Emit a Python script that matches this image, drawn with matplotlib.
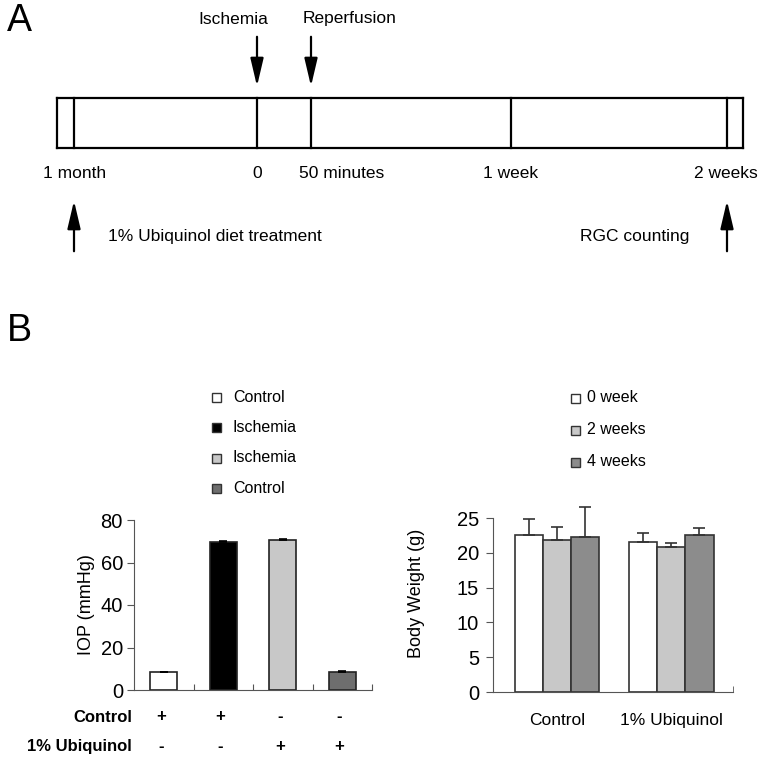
import matplotlib
matplotlib.use('Agg')
import matplotlib.pyplot as plt
from matplotlib.patches import Rectangle
import numpy as np

plt.rcParams['font.family'] = ['Liberation Sans', 'DejaVu Sans']

# panel A timeline
box_edges = [57, 74, 257, 311, 511, 727, 743]
time_labels = ['1 month', '0', '50 minutes', '1 week', '2 weeks']
time_label_x = [75, 257, 342, 511, 726]
events_top = ['Ischemia', 'Reperfusion']
events_top_x = [257, 311]
events_top_text_x = [233, 350]
events_bottom = ['1% Ubiquinol diet treatment', 'RGC counting']
events_bottom_x = [74, 727]
events_bottom_text_x = [108, 580]

# panel B left: IOP
iop_names = ['Control', 'Ischemia', 'Ischemia', 'Control']
iop_vals = [8.6, 69.6, 70.5, 8.6]
iop_err = [0.0, 0.5, 0.4, 0.5]
iop_colors = ['white', 'black', '#c8c8c8', '#6e6e6e']
row_names = ['Control', '1% Ubiquinol']
row_signs = [['+', '+', '-', '-'], ['-', '-', '+', '+']]

# panel B right: body weight
bw_groups = ['Control', '1% Ubiquinol']
bw_series = ['0 week', '2 weeks', '4 weeks']
bw_vals = [[22.6, 21.6], [21.8, 20.8], [22.2, 22.5]]
bw_err = [[2.3, 1.2], [1.9, 0.6], [4.4, 1.0]]
bw_colors = ['white', '#c8c8c8', '#8c8c8c']

W, H = 762, 766
fig = plt.figure(figsize=(W / 100, H / 100), dpi=100)

# overlay axes in pixel coords
ax0 = fig.add_axes([0, 0, 1, 1])
ax0.set_xlim(0, W)
ax0.set_ylim(H, 0)
ax0.axis('off')

ax0.text(7, 3, 'A', fontsize=27, va='top', ha='left')
ax0.text(7, 313, 'B', fontsize=27, va='top', ha='left')

# timeline box
top, bot = 98, 148
ax0.plot([box_edges[0], box_edges[-1]], [top, top], color='black', lw=1.6)
ax0.plot([box_edges[0], box_edges[-1]], [bot, bot], color='black', lw=1.6)
for x in box_edges:
    ax0.plot([x, x], [top, bot], color='black', lw=1.6)
for lab, x in zip(time_labels, time_label_x):
    ax0.text(x, 174, lab, fontsize=12.5, ha='center', va='center')

arrow = dict(arrowstyle='-|>,head_length=1.7,head_width=0.4', color='black', lw=1.6)
for lab, x, tx in zip(events_top, events_top_x, events_top_text_x):
    ax0.annotate('', xy=(x, 89), xytext=(x, 34), arrowprops=arrow)
    ax0.text(tx, 19, lab, fontsize=12.5, ha='center', va='center')
for lab, x, tx in zip(events_bottom, events_bottom_x, events_bottom_text_x):
    ax0.annotate('', xy=(x, 198), xytext=(x, 254), arrowprops=arrow)
    ax0.text(tx, 237, lab, fontsize=12.5, ha='left', va='center')

# ---- left bar chart
l, r, b, t = 134, 372, 690, 520
ax1 = fig.add_axes([l / W, 1 - b / H, (r - l) / W, (b - t) / H])
xpos = np.arange(len(iop_vals)) + 0.5
ax1.bar(xpos, iop_vals, width=0.45, color=iop_colors, edgecolor='#222222', lw=1.2,
        yerr=[np.zeros(len(iop_err)), iop_err], capsize=3,
        error_kw=dict(ecolor='black', elinewidth=1.2, capthick=1.2))
ax1.set_xlim(0, 4)
ax1.set_ylim(0, 80)
ax1.set_yticks([0, 20, 40, 60, 80])
ax1.set_xticks([1, 2, 3, 4])
ax1.set_xticklabels([])
ax1.tick_params(axis='y', direction='out', length=5, labelsize=14.5, pad=3, color='#555555')
ax1.tick_params(axis='x', direction='in', length=4, color='#555555')
for s in ['top', 'right']:
    ax1.spines[s].set_visible(False)
for s in ['left', 'bottom']:
    ax1.spines[s].set_color('#555555')
ax1.set_ylabel('IOP (mmHg)', fontsize=13)
ax1.yaxis.set_label_coords((95 - l) / (r - l), 0.5)

for i, (name, signs) in enumerate(zip(row_names, row_signs)):
    yy = 717 + 30 * i
    ax0.text(132, yy, name, fontsize=12, fontweight='bold', ha='right', va='center')
    for sx, sg in zip(xpos, signs):
        xx = l + sx / 4 * (r - l) - 3
        ax0.text(xx, yy, sg, fontsize=12, fontweight='bold', ha='center', va='center')

# legend left
for i, (name, c) in enumerate(zip(iop_names, iop_colors)):
    yy = 397 + 30.5 * i
    ax0.add_patch(Rectangle((212, yy - 4.5), 9, 9, facecolor=c, edgecolor='#333333', lw=1))
    ax0.text(233, yy, name, fontsize=11.5, ha='left', va='center')

# ---- right bar chart
l2, r2, b2, t2 = 493, 733, 692, 518
ax2 = fig.add_axes([l2 / W, 1 - b2 / H, (r2 - l2) / W, (b2 - t2) / H])
gx = np.array([0.535, 1.485])
bw = 0.235
for k in range(len(bw_series)):
    xs = gx + (k - 1) * bw
    ax2.bar(xs, bw_vals[k], width=bw, color=bw_colors[k], edgecolor='#333333', lw=1.2,
            yerr=[np.zeros(len(gx)), bw_err[k]], capsize=4,
            error_kw=dict(ecolor='#333333', elinewidth=1.2, capthick=1.2, clip_on=False))
ax2.set_xlim(0, 2)
ax2.set_ylim(0, 25)
ax2.set_yticks([0, 5, 10, 15, 20, 25])
ax2.set_xticks(gx)
ax2.set_xticklabels(bw_groups, fontsize=12.5)
ax2.set_xticks([2], minor=True)
ax2.tick_params(axis='x', which='major', length=0, pad=15)
ax2.tick_params(axis='x', which='minor', direction='in', length=4, color='#555555')
ax2.tick_params(axis='y', direction='out', length=5, labelsize=14.5, pad=5, color='#555555')
for s in ['top', 'right']:
    ax2.spines[s].set_visible(False)
for s in ['left', 'bottom']:
    ax2.spines[s].set_color('#555555')
ax2.set_ylabel('Body Weight (g)', fontsize=13)
ax2.yaxis.set_label_coords((425 - l2) / (r2 - l2), (b2 - 593) / (b2 - t2))

# legend right
for i, (name, c) in enumerate(zip(bw_series, bw_colors)):
    yy = 398 + 32 * i
    ax0.add_patch(Rectangle((571, yy - 4.5), 9, 9, facecolor=c, edgecolor='#333333', lw=1))
    ax0.text(587, yy, name, fontsize=11.5, ha='left', va='center')

fig.savefig('out.png', dpi=100)
